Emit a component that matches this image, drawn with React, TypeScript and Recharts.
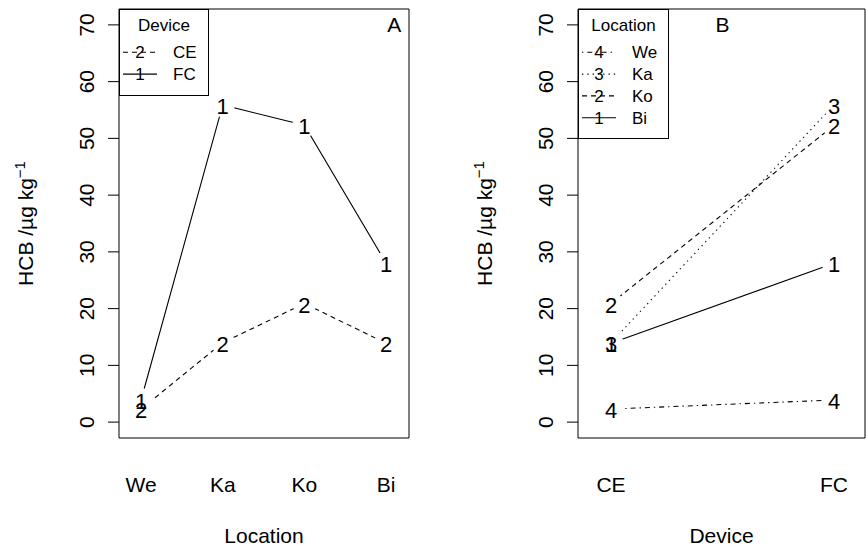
import React from "react"
import { Legend, Line, LineChart, ReferenceArea, ReferenceDot, XAxis, YAxis } from "recharts"

// HCB by sampling location and device
const locations = ["We", "Ka", "Ko", "Bi"]
const devices = ["CE", "FC"]
const ceValues = [2.3, 14.0, 20.9, 13.9]
const fcValues = [3.9, 55.9, 52.3, 28.0]
const yTicks = [0, 10, 20, 30, 40, 50, 60, 70]

// plotting characters and line types, as in interaction.plot
const deviceMarks = ["2", "1"]
const deviceLty = ["dashed", "solid"]
const locationMarks = ["4", "3", "2", "1"]
const locationLty = ["dotdash", "dotted", "dashed", "solid"]

const DASH: Record<string, string | undefined> = {
  solid: undefined,
  dashed: "5 4",
  dotted: "1.3 4",
  dotdash: "1.3 4 5 4",
}

const FONT = "'Liberation Sans', Arial, Helvetica, sans-serif"
const Y_DOMAIN: [number, number] = [-2.8, 72.8]

const dataA = locations.map((loc, i) => ({ x: i + 1, CE: ceValues[i], FC: fcValues[i] }))
const dataB = devices.map((dev, j) => {
  const row: Record<string, number> = { x: j + 1 }
  locations.forEach((loc, i) => {
    row[loc] = j === 0 ? ceValues[i] : fcValues[i]
  })
  return row
})

// white disc under each point so the line stops short of the label (type = "b")
const gapDot = (props: any) => {
  const { cx, cy, index } = props
  if (cx == null || cy == null) return <g key={`g${index}`} />
  return <circle key={`g${index}`} cx={cx} cy={cy} r={12} fill="#fff" stroke="none" />
}

const markDot = (mark: string) => (props: any) => {
  const { cx, cy, index } = props
  if (cx == null || cy == null) return <g key={`m${index}`} />
  return (
    <text key={`m${index}`} x={cx} y={cy + 9} textAnchor="middle" fontSize={22} fontFamily={FONT} fill="#000">
      {mark}
    </text>
  )
}

const YTick = (props: any) => {
  const { x, y, payload } = props
  const bx = x - 13.5
  return (
    <text x={bx} y={y} transform={`rotate(-90 ${bx} ${y})`} textAnchor="middle" fontSize={21} fontFamily={FONT} fill="#000">
      {payload.value}
    </text>
  )
}

const xTick = (names: string[]) => (props: any) => {
  const { x, y, payload } = props
  return (
    <text x={x} y={y + 53.5} textAnchor="middle" fontSize={21} fontFamily={FONT} fill="#000">
      {names[payload.value - 1]}
    </text>
  )
}

const xTitle = (text: string) => (props: any) => {
  const vb = props.viewBox
  return (
    <text x={vb.x + vb.width / 2} y={vb.y + 105} textAnchor="middle" fontSize={21} fontFamily={FONT} fill="#000">
      {text}
    </text>
  )
}

const yTitle = (props: any) => {
  const vb = props.viewBox
  const bx = vb.x + vb.width - 86.5
  const cy = vb.y + vb.height / 2
  return (
    <text x={bx} y={cy} transform={`rotate(-90 ${bx} ${cy})`} textAnchor="middle" fontSize={21} fontFamily={FONT} fill="#000">
      HCB /µg kg
      <tspan dy={-8} fontSize={15}>−1</tspan>
    </text>
  )
}

const panelLetter = (letter: string) => (props: any) => (
  <text x={props.cx} y={props.cy + 7.5} textAnchor="middle" fontSize={21} fontFamily={FONT} fill="#000">
    {letter}
  </text>
)

interface BoxLegendProps {
  title: string
  names: string[]
  marks: string[]
  ltys: string[]
  width: number
  height: number
}

function BoxLegend({ title, names, marks, ltys, width, height }: BoxLegendProps) {
  return (
    <svg width={width} height={height} style={{ display: "block" }}>
      <rect x={0.5} y={0.5} width={width - 1} height={height - 1} fill="#fff" stroke="#000" />
      <text x={width / 2} y={22} textAnchor="middle" fontSize={17} fontFamily={FONT}>
        {title}
      </text>
      {names.map((name, i) => {
        const cy = 43.3 + i * 21.8
        return (
          <g key={name}>
            <line x1={4} x2={38} y1={cy} y2={cy} stroke="#000" strokeWidth={1.1} strokeDasharray={DASH[ltys[i]]} />
            <text x={21} y={cy + 6} textAnchor="middle" fontSize={17} fontFamily={FONT}>
              {marks[i]}
            </text>
            <text x={54} y={cy + 6} fontSize={17} fontFamily={FONT}>
              {name}
            </text>
          </g>
        )
      })}
    </svg>
  )
}

export default function App() {
  const xDomainA: [number, number] = [0.73, 4.28]
  const xDomainB: [number, number] = [0.852, 2.139]

  return (
    <div style={{ position: "absolute", left: 0, top: 0, width: 866, height: 548, background: "#fff" }}>
      <div style={{ position: "absolute", left: 0, top: 0 }}>
        <LineChart width={433} height={548} data={dataA} margin={{ top: 9, right: 24, bottom: 10, left: 39 }}>
          <XAxis
            dataKey="x"
            type="number"
            domain={xDomainA}
            ticks={[1, 2, 3, 4]}
            allowDataOverflow
            axisLine={false}
            tickLine={false}
            tickSize={0}
            tickMargin={0}
            height={100}
            interval={0}
            tick={xTick(locations)}
            label={{ content: xTitle("Location") }}
          />
          <YAxis
            type="number"
            domain={Y_DOMAIN}
            ticks={yTicks}
            allowDataOverflow
            width={80}
            axisLine={false}
            tickLine={{ stroke: "#000" }}
            tickSize={11}
            tickMargin={0}
            interval={0}
            tick={YTick}
            label={{ content: yTitle }}
          />
          <ReferenceArea x1={xDomainA[0]} x2={xDomainA[1]} y1={Y_DOMAIN[0]} y2={Y_DOMAIN[1]} fill="none" fillOpacity={0} stroke="#000" strokeOpacity={1} ifOverflow="visible" />
          {devices.map((dev, i) => (
            <Line key={dev} name={dev} dataKey={dev} type="linear" stroke="#000" strokeWidth={1.1} strokeDasharray={DASH[deviceLty[i]]} dot={gapDot} activeDot={false} isAnimationActive={false} />
          ))}
          {devices.map((dev, i) => (
            <Line key={`${dev}-mark`} dataKey={dev} type="linear" stroke="none" legendType="none" dot={markDot(deviceMarks[i])} activeDot={false} isAnimationActive={false} />
          ))}
          <ReferenceDot x={4.1} y={70} r={0} shape={panelLetter("A")} />
          <Legend
            layout="vertical"
            align="center"
            verticalAlign="middle"
            wrapperStyle={{ left: 119, top: 9, width: 90, height: 87 }}
            content={() => <BoxLegend title="Device" names={devices} marks={deviceMarks} ltys={deviceLty} width={90} height={87} />}
          />
        </LineChart>
      </div>
      <div style={{ position: "absolute", left: 433, top: 0 }}>
        <LineChart width={433} height={548} data={dataB} margin={{ top: 9, right: 1, bottom: 10, left: 65 }}>
          <XAxis
            dataKey="x"
            type="number"
            domain={xDomainB}
            ticks={[1, 2]}
            allowDataOverflow
            axisLine={false}
            tickLine={false}
            tickSize={0}
            tickMargin={0}
            height={100}
            interval={0}
            tick={xTick(devices)}
            label={{ content: xTitle("Device") }}
          />
          <YAxis
            type="number"
            domain={Y_DOMAIN}
            ticks={yTicks}
            allowDataOverflow
            width={80}
            axisLine={false}
            tickLine={{ stroke: "#000" }}
            tickSize={11}
            tickMargin={0}
            interval={0}
            tick={YTick}
            label={{ content: yTitle }}
          />
          <ReferenceArea x1={xDomainB[0]} x2={xDomainB[1]} y1={Y_DOMAIN[0]} y2={Y_DOMAIN[1]} fill="none" fillOpacity={0} stroke="#000" strokeOpacity={1} ifOverflow="visible" />
          {locations.map((loc, i) => (
            <Line key={loc} name={loc} dataKey={loc} type="linear" stroke="#000" strokeWidth={1.1} strokeDasharray={DASH[locationLty[i]]} dot={gapDot} activeDot={false} isAnimationActive={false} />
          ))}
          {locations.map((loc, i) => (
            <Line key={`${loc}-mark`} dataKey={loc} type="linear" stroke="none" legendType="none" dot={markDot(locationMarks[i])} activeDot={false} isAnimationActive={false} />
          ))}
          <ReferenceDot x={1.5} y={70} r={0} shape={panelLetter("B")} />
          <Legend
            layout="vertical"
            align="center"
            verticalAlign="middle"
            wrapperStyle={{ left: 145, top: 9, width: 91, height: 130 }}
            content={() => <BoxLegend title="Location" names={locations} marks={locationMarks} ltys={locationLty} width={91} height={130} />}
          />
        </LineChart>
      </div>
    </div>
  )
}
